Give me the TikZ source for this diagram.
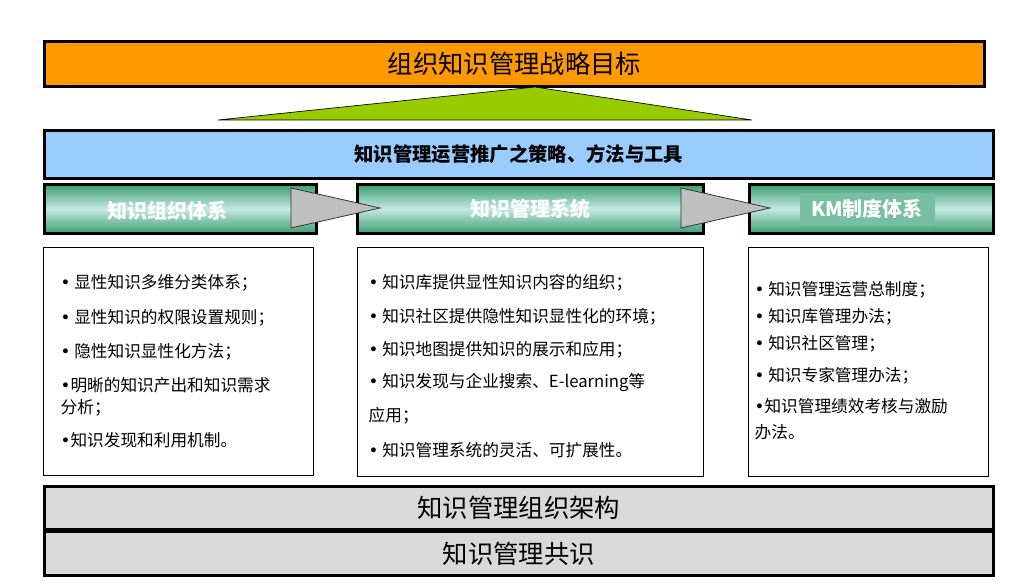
\documentclass[tikz,border=0pt]{standalone}
\usepackage{fontspec}
\setmainfont{Noto Sans CJK SC}
\newfontfamily\dv{DejaVu Sans}
\newcommand{\bu}{{\dv •}}
\definecolor{gdark}{HTML}{3C9E6E}
\definecolor{glight}{HTML}{C4E8E4}
\definecolor{cor}{HTML}{FF9900}
\definecolor{ctri}{HTML}{99CC00}
\definecolor{cblue}{HTML}{99CCFF}
\definecolor{ckm}{HTML}{78BEA0}
\begin{document}
\begin{tikzpicture}[x=0.75pt,y=-0.75pt,
 thick box/.style={draw=black,line width=2.2pt},
 greenbox/.style={thick box,top color=gdark,bottom color=gdark,middle color=glight},
 tx/.style={anchor=west,font=\fontsize{12.5}{14}\selectfont},
 gtitle/.style={font=\fontsize{15}{17}\selectfont\bfseries,text=white},
 tri/.style={draw=black!80,fill=black!25,line width=0.6pt}]
\useasboundingbox (0,0) rectangle (1024,588);
\node[thick box,fill=cor,minimum width=940*0.75pt,minimum height=45*0.75pt,anchor=north west,font=\fontsize{19}{22}\selectfont] (goal) at (43,40) {组织知识管理战略目标};
\filldraw[draw=black,fill=ctri,line width=0.5pt] (218,120) -- (535,87) -- (752,120) -- cycle;
\node[thick box,fill=cblue,minimum width=949*0.75pt,minimum height=48*0.75pt,anchor=north west,font=\fontsize{14.5}{16}\selectfont\bfseries] (strat) at (43,129) {知识管理运营推广之策略、方法与工具};
\node[greenbox,minimum width=272*0.75pt,minimum height=49*0.75pt,anchor=north west] (g1) at (43,183) {};
\node[greenbox,minimum width=346*0.75pt,minimum height=49*0.75pt,anchor=north west] (g2) at (356,183) {};
\node[greenbox,minimum width=244*0.75pt,minimum height=49*0.75pt,anchor=north west] (g3) at (748,183) {};
\node[gtitle] (t1) at (167,211) {知识组织体系};
\node[gtitle] (t2) at (530,209) {知识管理系统};
\fill[ckm] (800,193) rectangle (935,226);
\node[gtitle] (t3) at (867,209) {KM制度体系};
\draw[tri] (291,188) -- (291,228) -- (380,208) -- cycle;
\draw[tri] (681,188) -- (681,228) -- (770,208) -- cycle;
\draw[line width=0.6pt] (43,247) rectangle (313,475);
\draw[line width=0.6pt] (357,247) rectangle (703,476);
\draw[line width=0.6pt] (748,247) rectangle (988,476);
\node[tx] at (56,283) {\bu\ 显性知识多维分类体系；};
\node[tx] at (56,318) {\bu\ 显性知识的权限设置规则；};
\node[tx] at (56,352) {\bu\ 隐性知识显性化方法；};
\node[tx] at (56,385) {\bu 明晰的知识产出和知识需求};
\node[tx] at (56,408) {分析；};
\node[tx] at (56,440) {\bu 知识发现和利用机制。};
\node[tx] at (364,283) {\bu\ 知识库提供显性知识内容的组织；};
\node[tx] at (364,317) {\bu\ 知识社区提供隐性知识显性化的环境；};
\node[tx] at (364,350) {\bu\ 知识地图提供知识的展示和应用；};
\node[tx] at (364,383) {\bu\ 知识发现与企业搜索、E-learning等};
\node[tx] at (364,416) {应用；};
\node[tx] at (364,450) {\bu\ 知识管理系统的灵活、可扩展性。};
\node[tx] at (750,290) {\bu\ 知识管理运营总制度；};
\node[tx] at (750,317) {\bu\ 知识库管理办法；};
\node[tx] at (750,344) {\bu\ 知识社区管理；};
\node[tx] at (750,376) {\bu\ 知识专家管理办法；};
\node[tx] at (750,406) {\bu 知识管理绩效考核与激励};
\node[tx] at (750,432) {办法。};
\node[thick box,fill=black!15,minimum width=949*0.75pt,minimum height=43*0.75pt,anchor=north west,font=\fontsize{19}{22}\selectfont] (org) at (43,485) {知识管理组织架构};
\node[thick box,fill=black!15,minimum width=949*0.75pt,minimum height=44*0.75pt,anchor=north west,font=\fontsize{19}{22}\selectfont] (cons) at (43,530) {知识管理共识};
\end{tikzpicture}
\end{document}
